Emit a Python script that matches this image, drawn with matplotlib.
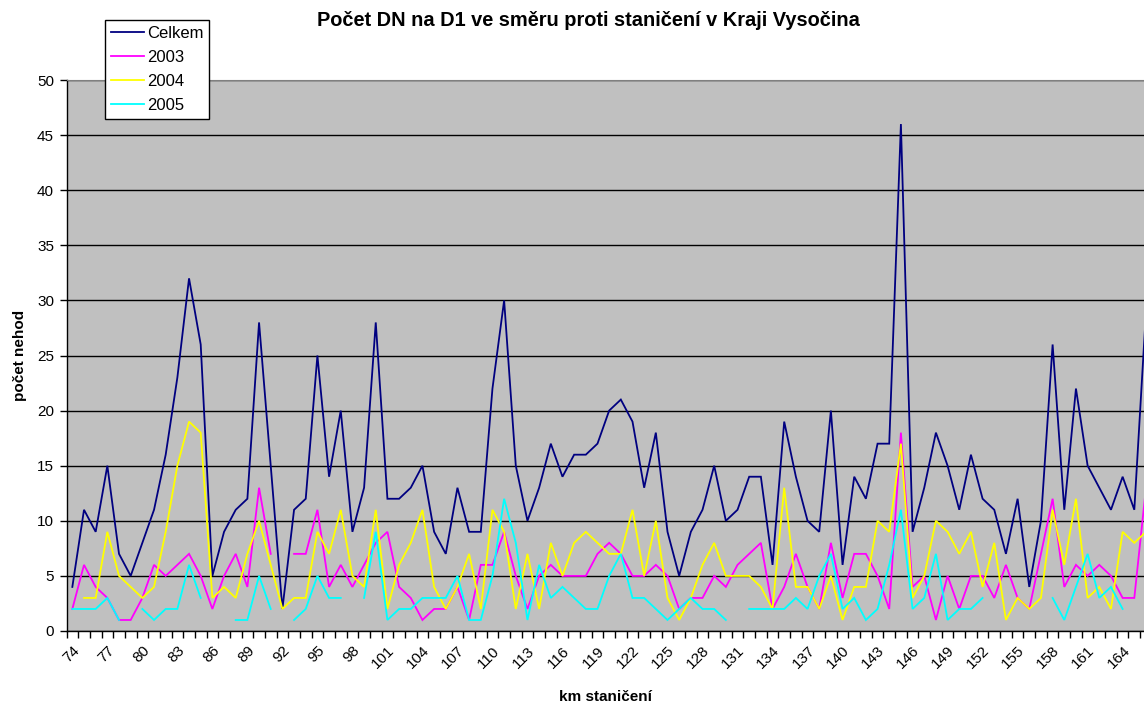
import numpy as np
import matplotlib
matplotlib.use("Agg")
import matplotlib.pyplot as plt
from matplotlib.ticker import FixedLocator

plt.rcParams["font.family"] = ["Liberation Sans", "DejaVu Sans"]

nan = np.nan

# km staničení 74 .. 166
km = list(range(74, 167))

celkem = [4, 11, 9, 15, 7, 5, 8, 11, 16, 23, 32, 26, 5, 9, 11, 12, 28, 15, 2, 11,
          12, 25, 14, 20, 9, 13, 28, 12, 12, 13, 15, 9, 7, 13, 9, 9, 22, 30, 15, 10,
          13, 17, 14, 16, 16, 17, 20, 21, 19, 13, 18, 9, 5, 9, 11, 15, 10, 11, 14, 14,
          6, 19, 14, 10, 9, 20, 6, 14, 12, 17, 17, 46, 9, 13, 18, 15, 11, 16, 12, 11,
          7, 12, 4, 10, 26, 11, 22, 15, 13, 11, 14, 11, 29]
r2003 = [2, 6, 4, 3, 1, 1, 3, 6, 5, 6, 7, 5, 2, 5, 7, 4, 13, 7, nan, 7,
         7, 11, 4, 6, 4, 6, 8, 9, 4, 3, 1, 2, 2, 4, 1, 6, 6, 9, 5, 2,
         5, 6, 5, 5, 5, 7, 8, 7, 5, 5, 6, 5, 2, 3, 3, 5, 4, 6, 7, 8,
         2, 4, 7, 4, 2, 8, 3, 7, 7, 5, 2, 18, 4, 5, 1, 5, 2, 5, 5, 3,
         6, 3, 2, 7, 12, 4, 6, 5, 6, 5, 3, 3, 13]
r2004 = [nan, 3, 3, 9, 5, 4, 3, 4, 9, 15, 19, 18, 3, 4, 3, 7, 10, 6, 2, 3,
         3, 9, 7, 11, 5, 4, 11, 2, 6, 8, 11, 4, 2, 4, 7, 2, 11, 9, 2, 7,
         2, 8, 5, 8, 9, 8, 7, 7, 11, 5, 10, 3, 1, 3, 6, 8, 5, 5, 5, 4,
         2, 13, 4, 4, 2, 5, 1, 4, 4, 10, 9, 17, 3, 5, 10, 9, 7, 9, 4, 8,
         1, 3, 2, 3, 11, 6, 12, 3, 4, 2, 9, 8, 9]
r2005 = [2, 2, 2, 3, 1, nan, 2, 1, 2, 2, 6, 3, nan, nan, 1, 1, 5, 2, nan, 1,
         2, 5, 3, 3, nan, 3, 9, 1, 2, 2, 3, 3, 3, 5, 1, 1, 5, 12, 8, 1,
         6, 3, 4, 3, 2, 2, 5, 7, 3, 3, 2, 1, 2, 3, 2, 2, 1, nan, 2, 2,
         2, 2, 3, 2, 5, 7, 2, 3, 1, 2, 6, 11, 2, 3, 7, 1, 2, 2, 3, nan,
         nan, 6, nan, nan, 3, 1, 4, 7, 3, 4, 2, nan, 7]

series = [("Celkem", celkem, "#000080"),
          ("2003", r2003, "#FF00FF"),
          ("2004", r2004, "#FFFF00"),
          ("2005", r2005, "#00FFFF")]

W, H = 1144, 708
fig = plt.figure(figsize=(W / 100, H / 100), dpi=100)
fig.patch.set_facecolor("white")

# plot area (pixel coords), extends a bit past the right edge like the original
left, top, bottom = 66.5, 80, 631
cat_w = 11.67
width = cat_w * len(km)
ax = fig.add_axes([left / W, (H - bottom) / H, width / W, (bottom - top) / H])
ax.set_facecolor("#C0C0C0")

x = np.arange(len(km))
for name, vals, col in series:
    ax.plot(x, np.array(vals, dtype=float), color=col, lw=1.3, label=name,
            solid_joinstyle="miter")

ax.set_xlim(-0.5, len(km) - 0.5)
ax.set_ylim(0, 50)
ax.set_yticks(np.arange(0, 51, 5))
ax.grid(True, axis="y", color="black", linewidth=1.0)
ax.set_axisbelow(True)

ax.xaxis.set_major_locator(FixedLocator(x[::3]))
ax.set_xticklabels([str(k) for k in km[::3]], rotation=45, ha="right",
                   va="top", rotation_mode="anchor", fontsize=11)
ax.xaxis.set_minor_locator(FixedLocator(np.arange(-0.5, len(km), 1)))
ax.tick_params(axis="x", which="major", length=0, pad=9)
ax.tick_params(axis="x", which="minor", length=5, width=1, direction="out")
ax.tick_params(axis="y", length=5, width=1, direction="out", labelsize=11, pad=4)

for s in ["left", "bottom"]:
    ax.spines[s].set_color("black")
    ax.spines[s].set_linewidth(1)
ax.spines["top"].set_color("#808080")
ax.spines["right"].set_color("#808080")

fig.text(588 / W, 1 - 20 / H, "Počet DN na D1 ve směru proti staničení v Kraji Vysočina",
         ha="center", va="center", fontsize=14.4, fontweight="bold")
fig.text(20 / W, 1 - 355 / H, "počet nehod", rotation=90, ha="center", va="center",
         fontsize=11, fontweight="bold")
fig.text(605 / W, 1 - 697 / H, "km staničení", ha="center", va="center",
         fontsize=11, fontweight="bold")

leg = fig.legend(loc="upper left", bbox_to_anchor=(105 / W, 1 - 20 / H),
                 frameon=True, fancybox=False, edgecolor="black", framealpha=1,
                 borderaxespad=0, handlelength=2.0, handletextpad=0.15,
                 labelspacing=0.55, borderpad=0.35, fontsize=12)
leg.get_frame().set_linewidth(1)

fig.savefig("out.png", dpi=100, facecolor="white")
